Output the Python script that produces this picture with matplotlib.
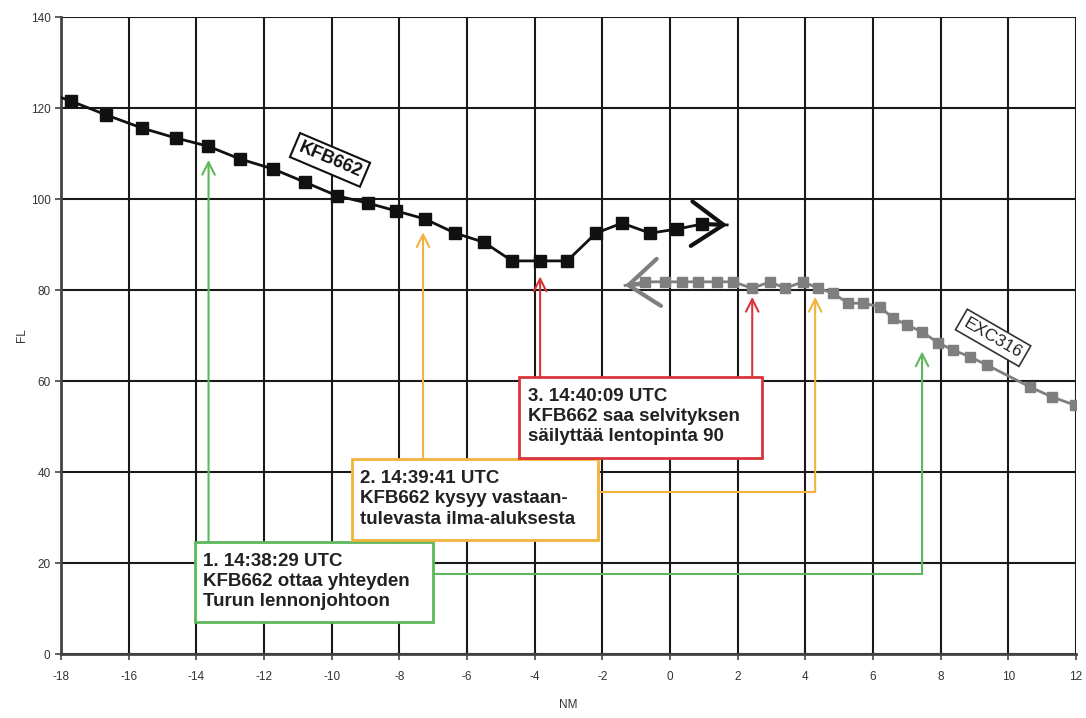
import matplotlib.pyplot as plt

dpi = 100
plt.rcParams['font.family'] = ['Liberation Sans', 'DejaVu Sans']
plt.rcParams['axes.unicode_minus'] = False

# KFB662 track (NM, FL)
kfb_nm = [-17.7, -16.67, -15.61, -14.6, -13.65, -12.71, -11.73, -10.79, -9.84, -8.93, -8.1,
          -7.24, -6.35, -5.5, -4.67, -3.84, -3.04, -2.19, -1.42, -0.59, 0.21, 0.95]
kfb_fl = [121.5, 118.5, 115.6, 113.4, 111.6, 108.8, 106.6, 103.7, 100.7, 99.1, 97.4,
          95.6, 92.5, 90.5, 86.4, 86.4, 86.4, 92.5, 94.7, 92.5, 93.4, 94.5]

# EXC316 track (NM, FL)
exc_nm = [-0.74, -0.15, 0.36, 0.83, 1.39, 1.86, 2.43, 2.96, 3.4, 3.93, 4.38, 4.82, 5.26,
          5.71, 6.21, 6.59, 7.01, 7.45, 7.92, 8.37, 8.87, 9.37, 10.64, 11.29, 11.97]
exc_fl = [81.8, 81.8, 81.8, 81.8, 81.8, 81.8, 80.4, 81.8, 80.4, 81.8, 80.4, 79.3, 77.1,
          77.1, 76.3, 73.8, 72.3, 70.8, 68.4, 66.8, 65.3, 63.5, 58.7, 56.5, 54.7]

x_ticks = list(range(-18, 13, 2))
y_ticks = list(range(0, 141, 20))

# events: text, colour, box (x0, y0, x1, y1)
events = [
    ('1. 14:38:29 UTC\nKFB662 ottaa yhteyden\nTurun lennonjohtoon', '#5cb85a',
     (-14.05, 7.1, -7.0, 24.7)),
    ('2. 14:39:41 UTC\nKFB662 kysyy vastaan-\ntulevasta ilma-aluksesta', '#f2b33d',
     (-9.41, 25.0, -2.14, 42.8)),
    ('3. 14:40:09 UTC\nKFB662 saa selvityksen\nsäilyttää lentopinta 90', '#d8343c',
     (-4.46, 43.0, 2.72, 60.9)),
]
# direct arrows: (x, y_from, y_to, event)
direct_arrows = [(-13.64, 24.7, 108.6, 0), (-7.3, 42.8, 92.7, 1),
                 (-3.84, 60.9, 83.0, 2), (2.43, 60.9, 78.5, 2)]
# elbow arrows: (x_from, y_line, x_to, y_to, event)
elbow_arrows = [(-7.0, 17.6, 7.45, 66.5, 0), (-2.14, 35.7, 4.29, 78.5, 1)]

fig = plt.figure(figsize=(1086 / dpi, 718 / dpi), dpi=dpi)
ax = fig.add_axes([0.0562, 0.0891, 0.9346, 0.8872])
ax.set_xlim(-18, 12)
ax.set_ylim(0, 140)
ax.set_xticks(x_ticks)
ax.set_yticks(y_ticks)
ax.grid(True, color='#1a1a1a', lw=1.5, zorder=1)
for s in ax.spines.values():
    s.set_visible(False)
for side in ['left', 'bottom']:
    ax.spines[side].set_visible(True)
    ax.spines[side].set_linewidth(2)
    ax.spines[side].set_color('#444444')
ax.tick_params(axis='both', labelsize=8.5, labelcolor='#333333', length=4, width=1.2,
               color='#444444')
ax.tick_params(axis='x', pad=8)
ax.set_xlabel('NM', fontsize=8.5, color='#333333', labelpad=12)
ax.set_ylabel('FL', fontsize=8.5, color='#333333', labelpad=2)

# KFB662
ax.plot([-18] + kfb_nm + [1.69], [122.3] + kfb_fl + [94.3], color='#111111', lw=2, zorder=4)
ax.plot(kfb_nm, kfb_fl, 's', color='#111111', ms=8, zorder=5)
ax.annotate('', xy=(1.69, 94.3), xytext=(0.95, 94.5),
            arrowprops=dict(arrowstyle='->,head_length=2.3,head_width=1.6', lw=3,
                            color='#111111', mutation_scale=10, shrinkA=0, shrinkB=0),
            zorder=5)

# EXC316
ax.plot([-1.33] + exc_nm, [81.0] + exc_fl, color='#7f7f7f', lw=2, zorder=4)
ax.plot(exc_nm, exc_fl, 's', color='#7f7f7f', ms=7.5, zorder=5)
ax.annotate('', xy=(-1.33, 81.0), xytext=(-0.74, 81.4),
            arrowprops=dict(arrowstyle='->,head_length=2.2,head_width=1.7', lw=3,
                            color='#7f7f7f', mutation_scale=10, shrinkA=0, shrinkB=0),
            zorder=5)

# flight labels
ax.text(-10.05, 108.6, 'KFB662', rotation=-23, ha='center', va='center', fontsize=13,
        fontweight='bold', color='#111111', zorder=6,
        bbox=dict(boxstyle='square,pad=0.25', fc='white', ec='#111111', lw=1.5))
ax.text(9.55, 69.5, 'EXC316', rotation=-30, ha='center', va='center', fontsize=12.5,
        color='#222222', zorder=6,
        bbox=dict(boxstyle='square,pad=0.25', fc='white', ec='#333333', lw=1.2))

# arrows
for x, y0, y1, i in direct_arrows:
    ax.annotate('', xy=(x, y1), xytext=(x, y0),
                arrowprops=dict(arrowstyle='->,head_length=0.9,head_width=0.45', lw=1.5,
                                color=events[i][1], shrinkA=0, shrinkB=0), zorder=3)
for x0, yl, x1, y1, i in elbow_arrows:
    ax.plot([x0, x1], [yl, yl], color=events[i][1], lw=1.5, zorder=3)
    ax.annotate('', xy=(x1, y1), xytext=(x1, yl),
                arrowprops=dict(arrowstyle='->,head_length=0.9,head_width=0.45', lw=1.5,
                                color=events[i][1], shrinkA=0, shrinkB=0), zorder=3)

# event boxes
for txt, col, (x0, y0, x1, y1) in events:
    ax.add_patch(plt.Rectangle((x0, y0), x1 - x0, y1 - y0, fc='white', ec=col, lw=2,
                               zorder=7))
    ax.text(x0 + 0.25, y1 - 2.4, txt, ha='left', va='top', fontsize=13.5, fontweight='bold',
            color='#222222', linespacing=1.25, zorder=8)

fig.savefig('out.png', dpi=dpi)
